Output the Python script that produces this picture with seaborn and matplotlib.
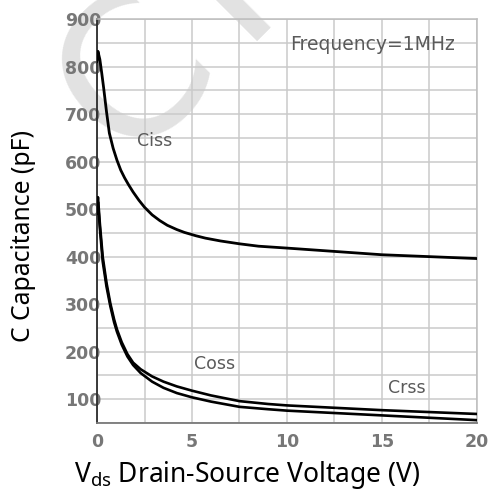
import numpy as np
import pandas as pd
import matplotlib
matplotlib.use("Agg")
import matplotlib.pyplot as plt
import seaborn as sns

## data (Vds in V, capacitance in pF)
vds_ciss = [0, 0.05, 0.15, 0.25, 0.35, 0.5, 0.65, 0.85, 1.05, 1.25, 1.45, 1.65, 1.9, 2.2, 2.5,
            2.9, 3.3, 3.7, 4.2, 4.6, 5.2, 5.7, 6.5, 7.5, 8.5, 10, 12.5, 15, 17.5, 20]
ciss = [810, 832, 815, 786, 755, 705, 660, 628, 603, 582, 566, 552, 536, 519, 504,
        488, 476, 466, 457, 451, 444, 439, 433, 427, 422, 418, 411, 404, 400, 396]

vds_oss = [0, 0.05, 0.15, 0.3, 0.5, 0.7, 0.9, 1.05, 1.3, 1.6, 1.9, 2.3, 2.9, 3.5, 4.2, 5,
           6, 7.5, 9, 10, 12.5, 15, 17.5, 20]
coss = [500, 525, 470, 400, 345, 302, 268, 247, 220, 195, 177, 163, 148, 137, 127, 118,
        108, 96, 90, 87, 82, 77, 73, 69]
crss = [490, 515, 460, 390, 337, 296, 262, 242, 215, 190, 172, 155, 137, 124, 113, 104,
        95, 84, 79, 76, 71, 66, 61, 56]

yticks = [100, 200, 300, 400, 500, 600, 700, 800, 900]
xticks = [0, 5, 10, 15, 20]

sns.set_theme(style="whitegrid")
plt.rcParams['font.family'] = ['DejaVu Sans']

fig = plt.figure(figsize=(4.89, 4.90), dpi=100)
ax = fig.add_axes([97/489, 1-423/490, 380/489, 404/490])

grey_grid = '#cacaca'
sns.lineplot(x=vds_ciss, y=ciss, ax=ax, color='black', lw=2.0, zorder=5)
sns.lineplot(x=vds_oss, y=coss, ax=ax, color='black', lw=1.9, zorder=5)
sns.lineplot(x=vds_oss, y=crss, ax=ax, color='black', lw=1.9, zorder=5)

ax.set_xlim(0, 20)
ax.set_ylim(50, 900)
ax.set_xticks(xticks)
ax.set_yticks(yticks)
ax.set_xticks(np.arange(0, 20.1, 2.5), minor=True)
ax.set_yticks(np.arange(50, 901, 50), minor=True)
ax.grid(which='both', color=grey_grid, lw=1.1)
ax.tick_params(which='both', length=0)
ax.tick_params(axis='y', pad=-3, labelsize=12.5, labelcolor='#777777')
ax.tick_params(axis='x', pad=7, labelsize=12.5, labelcolor='#777777')
for lab in ax.get_xticklabels() + ax.get_yticklabels():
    lab.set_fontweight('bold')

for s in ['top', 'right']:
    ax.spines[s].set_color('#bdbdbd')
    ax.spines[s].set_linewidth(1.1)
ax.spines['left'].set_color('#2b2b2b')
ax.spines['left'].set_linewidth(1.3)
ax.spines['bottom'].set_color('#7a7a7a')
ax.spines['bottom'].set_linewidth(1.3)

## curve labels
lab_kw = dict(fontsize=12.5, color='#5a5a5a', ha='center', va='center')
ax.text(3.05, 643, 'Ciss', **lab_kw)
ax.text(6.2, 174, 'Coss', **lab_kw)
ax.text(16.3, 123, 'Crss', **lab_kw)
ax.text(14.5, 847, 'Frequency=1MHz', fontsize=13.5, color='#5a5a5a', ha='center', va='center')

ax.set_xlabel(r'V$_{\mathregular{ds}}$ Drain-Source Voltage (V)', fontsize=19,
              family='Noto Sans', color='black')
ax.xaxis.set_label_coords(0.395, -0.145)
ax.xaxis.label.set_va('baseline')
ax.set_ylabel('C Capacitance (pF)', fontsize=17.8, family='Noto Sans', color='black')
ax.yaxis.set_label_coords(-0.16, 0.463)

## light watermark, behind grid, ticks and curves
ax.text(0.21, 0.96, 'CY', transform=ax.transAxes, fontsize=140, rotation=45,
        color='#e2e2e2', ha='center', va='center', zorder=0.4, clip_on=False)

plt.savefig('out.png', dpi=100)
